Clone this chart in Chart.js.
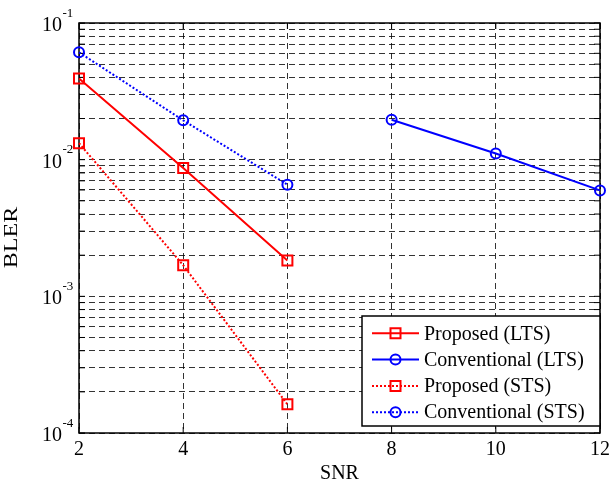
<!DOCTYPE html>
<html lang="en">
<head>
<meta charset="UTF-8">
<title>BLER vs SNR</title>
<script src="https://cdn.jsdelivr.net/npm/chart.js"></script>
<style>
  html, body { margin: 0; padding: 0; background: #fff; }
</style>
</head>
<body>
<canvas id="blerChart" width="610" height="482"></canvas>
<script>
// values
const snrLow = [2, 4, 6];
const snrHigh = [8, 10, 12];
const proposedLTS = [0.0392, 0.0087, 0.00183];
const conventionalLTS = [0.0196, 0.0111, 0.00596];
const proposedSTS = [0.0132, 0.00169, 0.000162];
const conventionalSTS = [0.061, 0.0194, 0.00656];

const xTicks = [2, 4, 6, 8, 10, 12];
const yExponents = [-4, -3, -2, -1];
const legendLabels = ['Proposed (LTS)', 'Conventional (LTS)', 'Proposed (STS)', 'Conventional (STS)'];

const serif = '"Liberation Serif", "Times New Roman", serif';

// 1..9 x 10^e for each decade, plus the top decade
const yTickValues = [];
yExponents.forEach((e, i) => {
    if (i === yExponents.length - 1) { yTickValues.push(Math.pow(10, e)); return; }
    for (let m = 1; m <= 9; m++) yTickValues.push(m * Math.pow(10, e));
});

function points(xs, ys) {
    return xs.map((x, i) => ({ x: x, y: ys[i] }));
}

function series(label, xs, ys, color, dash, style) {
    return {
        label: label,
        data: points(xs, ys),
        borderColor: color,
        borderWidth: 2,
        borderDash: dash,
        pointStyle: style,
        pointRadius: style === 'rect' ? 7.07 : 5,
        pointBorderWidth: 2,
        pointBorderColor: color,
        pointBackgroundColor: 'rgba(0,0,0,0)',
        tension: 0,
        clip: false
    };
}

const datasets = [
    series(legendLabels[0], snrLow, proposedLTS, '#ff0000', [], 'rect'),
    series(legendLabels[1], snrHigh, conventionalLTS, '#0000ff', [], 'circle'),
    series(legendLabels[2], snrLow, proposedSTS, '#ff0000', [2, 2], 'rect'),
    series(legendLabels[3], snrLow, conventionalSTS, '#0000ff', [2, 2], 'circle')
];

function drawMarker(ctx, style, x, y, color) {
    ctx.strokeStyle = color;
    ctx.lineWidth = 2;
    ctx.setLineDash([]);
    ctx.beginPath();
    if (style === 'rect') ctx.rect(x - 5, y - 5, 10, 10);
    else ctx.arc(x, y, 5, 0, Math.PI * 2);
    ctx.stroke();
}

const matlabFrame = {
    id: 'matlabFrame',
    beforeDatasetsDraw(chart) {
        const { ctx, chartArea: a } = chart;
        const xs = chart.scales.x, ys = chart.scales.y;
        ctx.save();
        ctx.strokeStyle = '#000';
        ctx.lineWidth = 1.5;
        ctx.strokeRect(a.left, a.top, a.right - a.left, a.bottom - a.top);
        ctx.lineWidth = 1;
        ctx.beginPath();
        xTicks.forEach(v => {
            const px = xs.getPixelForValue(v);
            ctx.moveTo(px, a.bottom); ctx.lineTo(px, a.bottom - 6);
            ctx.moveTo(px, a.top); ctx.lineTo(px, a.top + 6);
        });
        ys.ticks.forEach(t => {
            const py = ys.getPixelForValue(t.value);
            ctx.moveTo(a.left, py); ctx.lineTo(a.left + 6, py);
            ctx.moveTo(a.right, py); ctx.lineTo(a.right - 6, py);
        });
        ctx.stroke();
        ctx.restore();
    },
    afterDraw(chart) {
        const { ctx, chartArea: a } = chart;
        const xs = chart.scales.x, ys = chart.scales.y;
        ctx.save();
        ctx.fillStyle = '#000';

        // x tick labels
        ctx.font = '20px ' + serif;
        ctx.textAlign = 'center';
        ctx.textBaseline = 'alphabetic';
        xTicks.forEach(v => ctx.fillText(String(v), xs.getPixelForValue(v), a.bottom + 22));

        // x title
        ctx.fillText('SNR', (a.left + a.right) / 2, a.bottom + 46);

        // y tick labels 10^e
        yExponents.forEach(e => {
            const py = ys.getPixelForValue(Math.pow(10, e));
            ctx.font = '20px ' + serif;
            ctx.textAlign = 'right';
            ctx.fillText('10', a.left - 17, py + 8);
            ctx.font = '13px ' + serif;
            ctx.textAlign = 'left';
            ctx.fillText(String(e), a.left - 16.5, py - 6.5);
        });

        // y title
        ctx.save();
        ctx.translate(17, 237.5);
        ctx.rotate(-Math.PI / 2);
        ctx.scale(1.2, 0.9);
        ctx.font = '20px ' + serif;
        ctx.textAlign = 'center';
        ctx.fillText('BLER', 0, 0);
        ctx.restore();

        // legend
        const box = { left: 362, top: 316, right: a.right, bottom: 426 };
        ctx.fillStyle = '#fff';
        ctx.fillRect(box.left, box.top, box.right - box.left, box.bottom - box.top);
        ctx.strokeStyle = '#000';
        ctx.lineWidth = 1.5;
        ctx.strokeRect(box.left, box.top, box.right - box.left, box.bottom - box.top);
        const rowGap = 26.3;
        chart.data.datasets.forEach((ds, i) => {
            const ry = 333.3 + i * rowGap;
            ctx.strokeStyle = ds.borderColor;
            ctx.lineWidth = 2;
            ctx.setLineDash(ds.borderDash);
            ctx.beginPath();
            ctx.moveTo(372, ry);
            ctx.lineTo(419, ry);
            ctx.stroke();
            drawMarker(ctx, ds.pointStyle, 395.5, ry, ds.borderColor);
            ctx.fillStyle = '#000';
            ctx.font = '20px ' + serif;
            ctx.textAlign = 'left';
            ctx.textBaseline = 'middle';
            ctx.fillText(ds.label, 424, ry + 1);
        });
        ctx.restore();
    }
};

const gridStyle = { color: 'rgba(0,0,0,0.8)', lineWidth: 1, drawTicks: false };
const borderStyle = { display: false, dash: [6, 4] };

new Chart(document.getElementById('blerChart').getContext('2d'), {
    type: 'line',
    data: { datasets: datasets },
    options: {
        responsive: false,
        animation: false,
        layout: { padding: { left: 79, top: 23, right: 10, bottom: 49 } },
        plugins: { legend: { display: false }, tooltip: { enabled: false } },
        scales: {
            x: {
                type: 'linear',
                min: 2,
                max: 12,
                ticks: { display: false, stepSize: 2 },
                grid: gridStyle,
                border: borderStyle
            },
            y: {
                type: 'logarithmic',
                min: 1e-4,
                max: 1e-1,
                afterBuildTicks: scale => {
                    scale.ticks = yTickValues.map(v => ({ value: v }));
                },
                ticks: { display: false },
                grid: gridStyle,
                border: borderStyle
            }
        }
    },
    plugins: [matlabFrame]
});
</script>
</body>
</html>
